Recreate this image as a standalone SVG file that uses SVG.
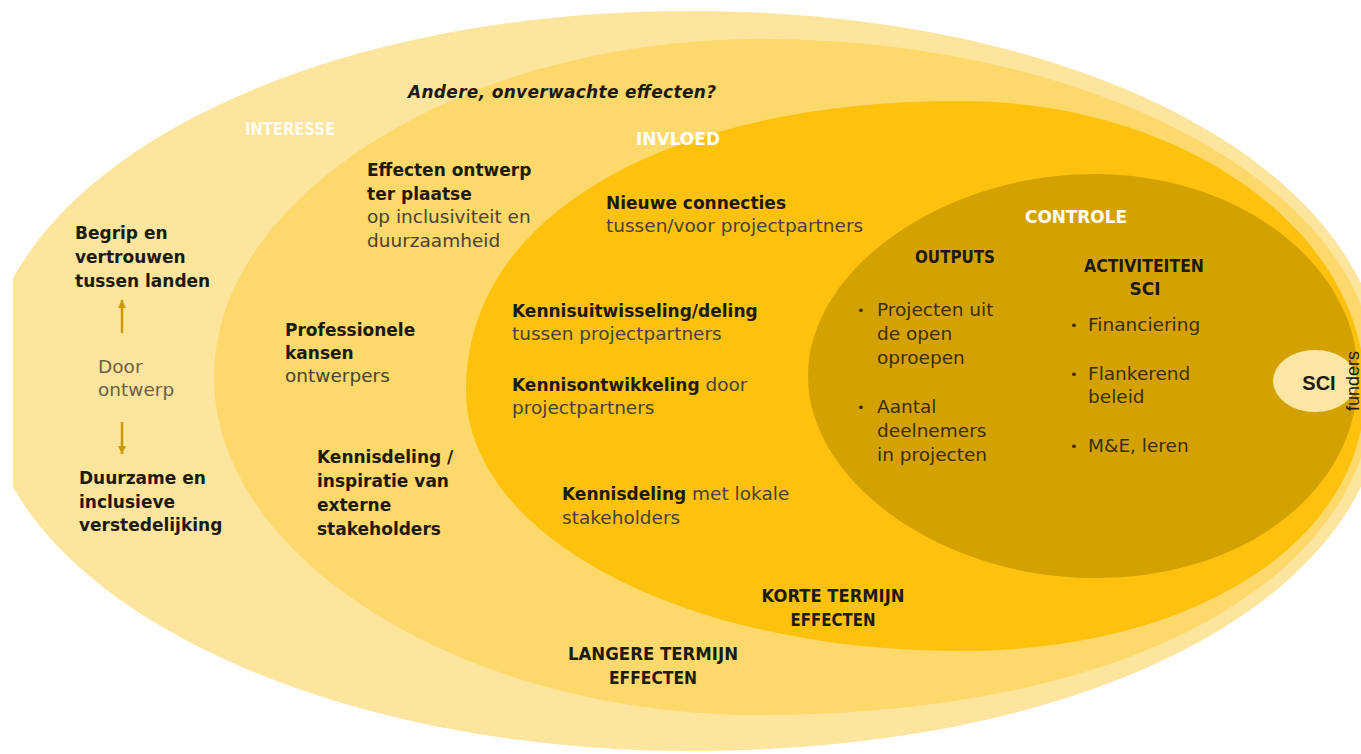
<svg xmlns="http://www.w3.org/2000/svg" width="1361" height="754" viewBox="0 0 1361 754">
<defs>
<clipPath id="crop"><rect x="13" y="0" width="1348" height="754"/></clipPath>
<marker id="ah" viewBox="0 0 10 10" refX="10" refY="5" markerWidth="8" markerHeight="8" markerUnits="userSpaceOnUse" orient="auto"><path d="M0,0 L10,5 L0,10 z" fill="#C99A06"/></marker>
<style>
.b{font-family:"DejaVu Sans",sans-serif;font-weight:bold;font-size:17px;fill:#1d1a12}
.r{font-family:"DejaVu Sans",sans-serif;font-size:18.5px;fill:#4a4231}
.rd{font-family:"DejaVu Sans",sans-serif;font-size:18.5px;fill:#3b2f06}
.bl{font-family:"DejaVu Sans",sans-serif;font-size:13px;fill:#3b2f06}
.g{font-family:"DejaVu Sans",sans-serif;font-size:18.5px;fill:#6a6048}
.cap{font-family:"DejaVu Sans",sans-serif;font-weight:bold;font-size:17px;fill:#1d1a12}
.w{fill:#ffffff}
.arr{stroke:#C99A06;stroke-width:2.5;fill:none}
</style>
</defs>
<rect width="1361" height="754" fill="#ffffff"/>
<g id="rings" clip-path="url(#crop)">
<g id="interesse-ring"><path fill="#FDE59D" d="M690,11 C1086.2,11 1385,171.8 1385,385 C1385,597.3 1093.1,751 690,751 C302.3,751 -15,586.3 -15,385 C-15,175.6 295.2,11 690,11 Z"/></g>
<g id="langere-ring"><path fill="#FDD86A" d="M760,39 C1098.3,39 1375,191.1 1375,377 C1375,579.8 1129,715 760,715 C465.2,715 214,559.5 214,377 C214,194.5 465.2,39 760,39 Z"/></g>
<g id="invloed-ring"><path fill="#FEC10E" d="M960,101 C1182.8,101 1365,231 1365,390 C1365,541.4 1194.9,651 960,651 C683.4,651 466,536.2 466,390 C466,216.6 663.6,101 960,101 Z"/></g>
<g id="controle-ring"><path fill="#D4A200" d="M1095,174 C1239.7,174 1358,264.9 1358,376 C1358,491.1 1244.9,578 1095,578 C942.9,578 808,483.1 808,376 C808,268.9 942.9,174 1095,174 Z"/></g>
</g>
<g id="sci"><ellipse cx="1315" cy="381" rx="42" ry="31" fill="#FCE6A4"/><text x="1319" y="390" text-anchor="middle" font-family="Liberation Sans, sans-serif" font-weight="bold" font-size="20" fill="#1d1a12">SCI</text></g>
<g id="funders"><text transform="translate(1359,381) rotate(-90)" text-anchor="middle" font-family="Liberation Sans, sans-serif" font-size="18" fill="#1d1a12">funders</text></g>

<g id="label-andere"><text x="408" y="98" class="b" font-style="italic" textLength="308">Andere, onverwachte effecten?</text></g>
<g id="label-interesse"><text x="245" y="135" class="cap w" fill-opacity="0.92" textLength="90" lengthAdjust="spacingAndGlyphs">INTERESSE</text></g>
<g id="label-invloed"><text x="636" y="145" class="cap w" textLength="84" lengthAdjust="spacingAndGlyphs">INVLOED</text></g>
<g id="label-controle"><text x="1025" y="223" class="cap w" textLength="102" lengthAdjust="spacingAndGlyphs">CONTROLE</text></g>

<g id="node-begrip"><text class="b"><tspan x="75" y="239">Begrip en</tspan><tspan x="75" y="263">vertrouwen</tspan><tspan x="75" y="287">tussen landen</tspan></text></g>
<g id="node-door"><text class="g"><tspan x="98" y="373">Door</tspan><tspan x="98" y="396">ontwerp</tspan></text></g>
<g id="node-duurzame"><text class="b"><tspan x="79" y="484">Duurzame en</tspan><tspan x="79" y="508">inclusieve</tspan><tspan x="79" y="531">verstedelijking</tspan></text></g>

<g id="node-effecten"><text><tspan class="b" x="367" y="176">Effecten ontwerp</tspan><tspan class="b" x="367" y="200">ter plaatse</tspan><tspan class="r" x="367" y="223">op inclusiviteit en</tspan><tspan class="r" x="367" y="247">duurzaamheid</tspan></text></g>
<g id="node-professionele"><text><tspan class="b" x="285" y="336">Professionele</tspan><tspan class="b" x="285" y="359">kansen</tspan><tspan class="r" x="285" y="382">ontwerpers</tspan></text></g>
<g id="node-kennisdeling-ext"><text class="b"><tspan x="317" y="463">Kennisdeling /</tspan><tspan x="317" y="487">inspiratie van</tspan><tspan x="317" y="511">externe</tspan><tspan x="317" y="535">stakeholders</tspan></text></g>
<g id="label-langere"><text class="cap" font-size="18" text-anchor="middle"><tspan x="653" y="660" textLength="170" lengthAdjust="spacingAndGlyphs">LANGERE TERMIJN</tspan><tspan x="653" y="684" textLength="88" lengthAdjust="spacingAndGlyphs">EFFECTEN</tspan></text></g>

<g id="node-nieuwe"><text><tspan class="b" x="606" y="209">Nieuwe connecties</tspan><tspan class="r" x="606" y="232">tussen/voor projectpartners</tspan></text></g>
<g id="node-kennisuitwisseling"><text><tspan class="b" x="512" y="317">Kennisuitwisseling/deling</tspan><tspan class="r" x="512" y="340">tussen projectpartners</tspan></text></g>
<g id="node-kennisontwikkeling"><text><tspan class="b" x="512" y="391">Kennisontwikkeling</tspan><tspan class="r"> door</tspan><tspan class="r" x="512" y="414">projectpartners</tspan></text></g>
<g id="node-kennisdeling-lok"><text><tspan class="b" x="562" y="500">Kennisdeling</tspan><tspan class="r"> met lokale</tspan><tspan class="r" x="562" y="524">stakeholders</tspan></text></g>
<g id="label-korte"><text class="cap" font-size="18" text-anchor="middle"><tspan x="833" y="602" textLength="143" lengthAdjust="spacingAndGlyphs">KORTE TERMIJN</tspan><tspan x="833" y="626" textLength="85" lengthAdjust="spacingAndGlyphs">EFFECTEN</tspan></text></g>

<g id="node-outputs">
<text x="915" y="263" class="cap" font-size="16.5" textLength="80" lengthAdjust="spacingAndGlyphs">OUTPUTS</text>
<text class="bl"><tspan x="857" y="315">•</tspan><tspan x="857" y="412">•</tspan></text>
<text class="rd"><tspan x="877" y="316">Projecten uit</tspan><tspan x="877" y="340">de open</tspan><tspan x="877" y="364">oproepen</tspan><tspan x="877" y="413">Aantal</tspan><tspan x="877" y="437">deelnemers</tspan><tspan x="877" y="461">in projecten</tspan></text>
</g>
<g id="node-activiteiten">
<text class="cap" font-size="16.5" text-anchor="middle"><tspan x="1144" y="272" textLength="120" lengthAdjust="spacingAndGlyphs">ACTIVITEITEN</tspan><tspan x="1145" y="295">SCI</tspan></text>
<text class="bl"><tspan x="1070" y="330">•</tspan><tspan x="1070" y="379">•</tspan><tspan x="1070" y="451">•</tspan></text>
<text class="rd"><tspan x="1088" y="331">Financiering</tspan><tspan x="1088" y="380">Flankerend</tspan><tspan x="1088" y="403">beleid</tspan><tspan x="1088" y="452">M&amp;E, leren</tspan></text>
</g>

<g id="connectors">
<line class="arr" x1="122" y1="333" x2="122" y2="300" marker-end="url(#ah)"/>
<line class="arr" x1="122" y1="422" x2="122" y2="454" marker-end="url(#ah)"/>
</g>
</svg>
